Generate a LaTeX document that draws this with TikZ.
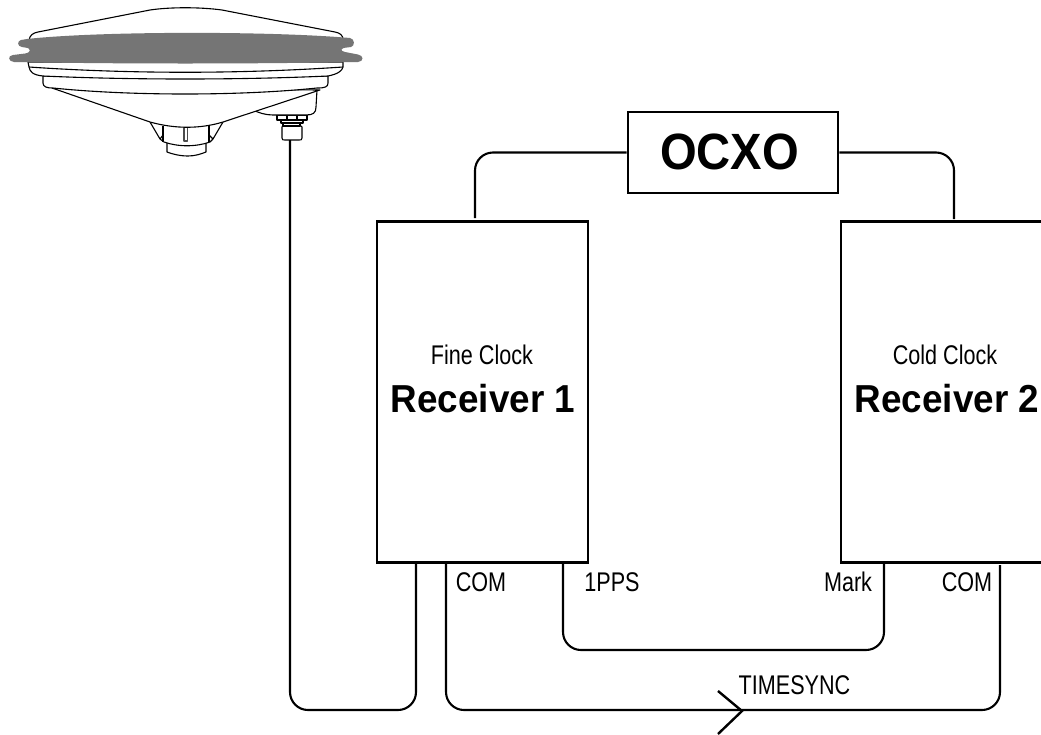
\documentclass[tikz,border=0pt]{standalone}
\usepackage{fontspec}
\setmainfont{Liberation Sans}
\tikzset{
  x=1pt,y=-1pt,
  wire/.style={draw=black,line width=2.1pt,rounded corners=18pt},
  boxn/.style={draw=black,line width=2.2pt,fill=white,inner sep=0pt},
  ant/.style={draw=black,line width=1.1pt,fill=white,line join=round},
  lbl/.style={inner sep=0pt,font=\fontsize{27}{27}\selectfont,xscale=.80,text=black},
  big/.style={inner sep=0pt,font=\fontsize{39}{39}\selectfont\bfseries,xscale=.945,text=black},
}
\begin{document}
\begin{tikzpicture}
\useasboundingbox (0,0) rectangle (1041,734);
\fill[white] (0,0) rectangle (1041,734);
% antenna lower parts
\draw[ant] (167,142) -- (167,152) .. controls (172,154) and (180,156) .. (188,156) .. controls (195,156) and (201,154) .. (206,152) -- (206,142) -- cycle;
\draw[ant] (150,122) -- (160,139) -- (164,142) .. controls (178,147) and (196,147) .. (210,142) -- (213,139) -- (223,122) -- cycle;
\draw[ant] (163,126) -- (163,142);
\draw[ant] (209,126) -- (209,142);
\draw[ant] (160,139) -- (163,135);
\draw[ant] (213,139) -- (209,135);
\draw[ant,draw=black!70] (184,123) rectangle (187.5,141);
% bracket and connector
\draw[ant] (282,127) .. controls (282,126) and (283,126) .. (284,126) -- (300,126) .. controls (301,126) and (302,126) .. (302,127) -- (302,138) .. controls (302,140) and (301,140) .. (299,140) -- (285,140) .. controls (283,140) and (282,140) .. (282,138) -- cycle;
\draw[ant] (283,122) rectangle (300,126);
\draw[ant] (281,119) rectangle (303,123);
\draw[ant] (277,115) rectangle (307,120);
\draw[ant] (287,115) -- (287,119.5) (297,115) -- (297,119.5);
\draw[ant] (253,110) .. controls (259,113) and (266,115) .. (273,115) -- (306,115) .. controls (313,115) and (316,113) .. (316,107) -- (317,90) -- cycle;
% cone
\draw[ant] (52,88) -- (150,122) .. controls (175,129) and (200,129) .. (223,122) -- (320,90) -- cycle;
\draw[ant] (43,76) -- (43,83) .. controls (43,87) and (47,88) .. (53,88) .. controls (130,96) and (240,96) .. (317,88) .. controls (325,88) and (328,87) .. (328,83) -- (328,76) -- cycle;
\draw[ant] (28,62) -- (29,67) .. controls (30,72) and (33,75) .. (43,76) .. controls (130,80) and (240,80) .. (328,76) .. controls (338,74) and (342,71) .. (343,67) -- (343,62) -- cycle;
\draw[ant] (29,67) .. controls (130,74) and (240,74) .. (343,67);
% dome
\draw[ant] (29,40) .. controls (30,35) and (33,33) .. (38,32) -- (150,10) .. controls (170,7) and (200,7) .. (222,10) -- (335,32) .. controls (340,33) and (343,35) .. (343,40) -- cycle;
% grey band
\fill[black!54] (27,39) .. controls (100,31) and (270,31) .. (350,38)
 .. controls (355,39) and (355,46) .. (351,47) -- (347,47.5) .. controls (340,48) and (340,51) .. (345,52) -- (358,54.5)
 .. controls (364,55.5) and (364,61.5) .. (358,62) .. controls (250,64) and (120,64) .. (14,62)
 .. controls (8,61.5) and (7.5,55.5) .. (13,55) -- (25,53.5) .. controls (31.5,52.5) and (31.5,48) .. (25,47.5) -- (22,47) .. controls (17,46.5) and (17,41) .. (21,40) -- cycle;
% coordinates
\coordinate (antout) at (290,140);
% boxes
\node[boxn,minimum width=211pt,minimum height=341pt] (r1) at (482.5,392) {};
\node[boxn,minimum width=210pt,minimum height=341pt] (r2) at (946,392) {};
\node[boxn,line width=2.8pt,minimum width=210pt,minimum height=81pt] (ocxo) at (733,152.5) {};
\node[inner sep=0pt,font=\fontsize{51}{51}\selectfont\bfseries,xscale=.925] (ocxot) at (729.5,152) {OCXO};
\node[lbl] (t1) at (482,355) {Fine Clock};
\node[big] (t2) at (483,399) {Receiver 1};
\node[lbl] (t3) at (945,355) {Cold Clock};
\node[big] (t4) at (947,399) {Receiver 2};
\node[lbl] (com1) at (481,582) {COM};
\node[lbl] (pps) at (612,582) {1PPS};
\node[lbl] (mark) at (848,582) {Mark};
\node[lbl] (com2) at (967,582) {COM};
\node[lbl] (ts) at (794.5,685) {TIMESYNC};
% wires
\coordinate (r1a) at (475,218);
\coordinate (r2a) at (954,219);
\draw[wire] (r1a) |- (ocxo.west);
\draw[wire] (r2a) |- (ocxo.east);
\coordinate (r1g) at (416,563);
\draw[wire] (antout) -- (290,710) -- (416,710) -- (r1g);
\coordinate (r1c) at (446,563);
\coordinate (r2c) at (1000,565);
\draw[wire] (r1c) -- (446,710) -- (1000,710) -- (r2c);
\coordinate (r1p) at (563,563);
\coordinate (r2m) at (884,563);
\draw[wire] (r1p) -- (563,650) -- (884,650) -- (r2m);
\coordinate (tip) at (742,711);
\draw[line width=2.4pt] (718,691) -- (tip) -- (718,734);
\end{tikzpicture}
\end{document}
